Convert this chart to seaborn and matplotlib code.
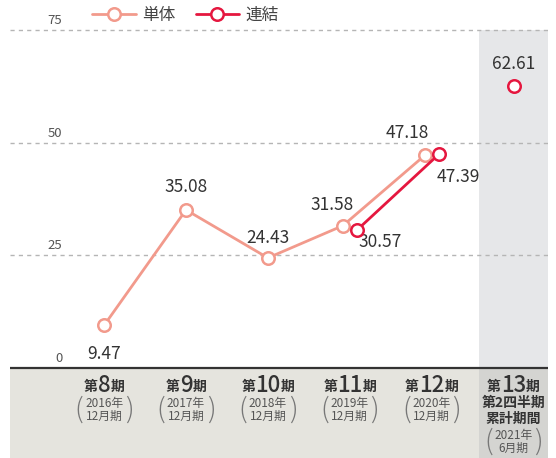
import numpy as np
import pandas as pd
import matplotlib
matplotlib.use("Agg")
import matplotlib.pyplot as plt
from matplotlib.lines import Line2D
import seaborn as sns

periods = ["8", "9", "10", "11", "12", "13"]
sub_years = ["2016年", "2017年", "2018年", "2019年", "2020年", "2021年"]
sub_months = ["12月期", "12月期", "12月期", "12月期", "12月期", "6月期"]
tantai = [9.47, 35.08, 24.43, 31.58, 47.18, np.nan]
renketsu = [np.nan, np.nan, np.nan, 30.57, 47.39, 62.61]
yticks = [0, 25, 50, 75]

sns.set_theme(style="white")
plt.rcParams["font.family"] = ["Noto Sans CJK JP", "DejaVu Sans"]

c_tan = "#f29a8c"
c_ren = "#e5173f"
txt = "#333333"

idx = np.arange(len(periods))
t = np.array(tantai)
r = np.array(renketsu)
both = ~np.isnan(t) & ~np.isnan(r)
dodge = 0.085
df = pd.DataFrame({"x_t": idx - dodge * both, "x_r": idx + dodge * both,
                   "tantai": t, "renketsu": r})

fig = plt.figure(figsize=(5.56, 4.58), dpi=100)
ax = fig.add_axes([10 / 556, 0, 538 / 556, 1])

# backgrounds
ax.axhspan(-19.97, 0, color="#e5e4de", lw=0, zorder=0)
ax.fill_between([4.58, 5.42], 0, 75, color="#e6e7e9", lw=0, zorder=0)
ax.fill_between([4.58, 5.42], -19.97, 0, color="#d4d4d1", lw=0, zorder=0)

for v in yticks[1:]:
    ax.axhline(v, color="#b5b5b5", lw=1, ls=(0, (3, 3)), zorder=1)
ax.axhline(0, color="#333333", lw=1.6, zorder=2)
for v in yticks:
    ax.annotate(str(v), (-0.51, v), xytext=(0, 3), textcoords="offset pixels",
                ha="right", va="bottom", fontsize=9.5, color="#555555")

mk = dict(marker="o", markersize=9, markerfacecolor="white", markeredgewidth=1.8)
dt = df.dropna(subset=["tantai"])
sns.lineplot(data=dt, x="x_t", y="tantai", ax=ax, color=c_tan, lw=2,
             markeredgecolor=c_tan, zorder=3, **mk)
dr = df.dropna(subset=["renketsu"])
sns.lineplot(data=dr.iloc[:2], x="x_r", y="renketsu", ax=ax, color=c_ren, lw=2,
             markeredgecolor=c_ren, zorder=4, **mk)
sns.lineplot(data=dr.iloc[2:], x="x_r", y="renketsu", ax=ax, color=c_ren, lw=2,
             markeredgecolor=c_ren, zorder=4, **mk)
ax.set_xlim(-1.149, 5.42)
ax.set_ylim(-19.97, 81.66)
ax.axis("off")

t_off = [(0, -29), (0, 23), (0, 20), (-11, 21), (-17, 22), None]
r_off = [None, None, None, (23, -12), (20, -23), (0, 22)]
for i in idx:
    if not np.isnan(t[i]):
        ax.annotate(f"{t[i]:.2f}", (df.x_t[i], t[i]), xytext=t_off[i],
                    textcoords="offset pixels", ha="center", va="center",
                    fontsize=12.5, color=txt)
    if not np.isnan(r[i]):
        ax.annotate(f"{r[i]:.2f}", (df.x_r[i], r[i]), xytext=r_off[i],
                    textcoords="offset pixels", ha="center", va="center",
                    fontsize=12.5, color=txt)

# category labels
tr = ax.get_xaxis_transform()
def fy(px):
    return 1 - px / 458

fig.canvas.draw()
renderer = fig.canvas.get_renderer()
for i, p in enumerate(periods):
    num = ax.text(i, fy(385), p, transform=tr, ha="center", va="center",
                  fontsize=16, fontweight="medium", color=txt)
    w = num.get_window_extent(renderer).width / 2
    ax.annotate("第", (i, fy(387)), xycoords=tr, xytext=(-w, 0),
                textcoords="offset pixels", ha="right", va="center",
                fontsize=10, fontweight="bold", color=txt)
    ax.annotate("期", (i, fy(387)), xycoords=tr, xytext=(w, 0),
                textcoords="offset pixels", ha="left", va="center",
                fontsize=10, fontweight="bold", color=txt)
    base = 403
    if i == len(periods) - 1:
        ax.text(i, fy(403), "第2四半期", transform=tr, ha="center", va="center",
                fontsize=10, fontweight="bold", color=txt)
        ax.text(i, fy(419), "累計期間", transform=tr, ha="center", va="center",
                fontsize=10, fontweight="bold", color=txt)
        base = 435
    ax.text(i, fy(base), sub_years[i], transform=tr, ha="center", va="center",
            fontsize=8.5, color="#555555")
    ax.text(i, fy(base + 13), sub_months[i], transform=tr, ha="center",
            va="center", fontsize=8.5, color="#555555")
    for s, dx in (("(", -25), (")", 25)):
        ax.annotate(s, (i, fy(base + 6.5)), xycoords=tr, xytext=(dx, 0),
                    textcoords="offset pixels", ha="center", va="center",
                    fontsize=20, color="#777777", fontweight="light")

handles = [Line2D([], [], color=c_tan, lw=2, markeredgecolor=c_tan, **mk),
           Line2D([], [], color=c_ren, lw=2, markeredgecolor=c_ren, **mk)]
ax.legend(handles, ["単体", "連結"], ncol=2, loc="upper left",
          bbox_to_anchor=(0.125, 1.018), frameon=False, fontsize=12,
          handlelength=2.6, handletextpad=0.4, columnspacing=1.2,
          labelcolor="#444444")

fig.savefig("out.png", dpi=100)
